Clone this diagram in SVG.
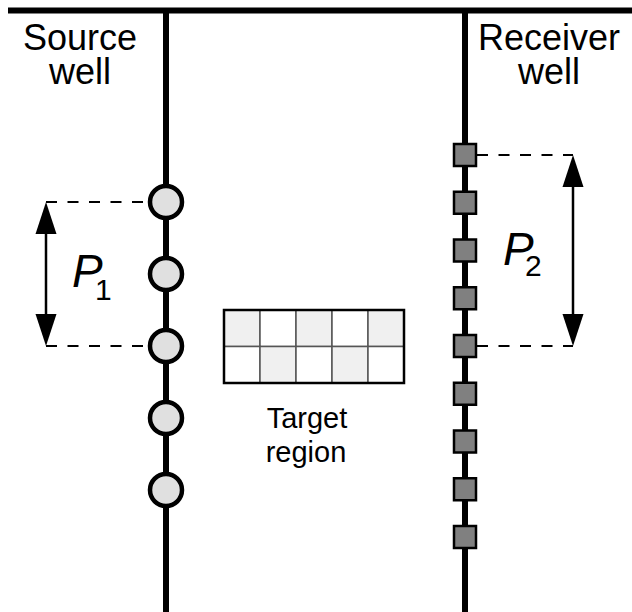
<svg xmlns="http://www.w3.org/2000/svg" width="632" height="612" viewBox="0 0 632 612">
  <defs>
    <style>
      .well { stroke: #000; stroke-width: 6; fill: none; }
      .src { fill: #e0e0e0; stroke: #000; stroke-width: 4.5; }
      .rcv { fill: #808080; stroke: #000; stroke-width: 2.5; }
      .dash { stroke: #000; stroke-width: 2; stroke-dasharray: 11 10.5; fill: none; }
      .dim { stroke: #000; stroke-width: 2.5; fill: none; }
      .head { fill: #000; }
      .lbl { font-family: "Liberation Sans", Arial, sans-serif; fill: #000; }
      .cellA { fill: #f0f0f0; stroke: #555; stroke-width: 1.5; }
      .cellB { fill: #ffffff; stroke: #555; stroke-width: 1.5; }
    </style>
  </defs>

  <rect width="632" height="612" fill="#fff"/>

  <!-- surface and wells -->
  <g id="wells">
    <line class="well" x1="8" y1="10.5" x2="632" y2="10.5" stroke-width="7"/>
    <line class="well" x1="166" y1="10" x2="166" y2="612"/>
    <line class="well" x1="465" y1="10" x2="465" y2="612"/>
  </g>

  <g id="labels">
    <text class="lbl" font-size="36" text-anchor="middle"><tspan x="80" y="50">Source</tspan><tspan x="80" y="84">well</tspan></text>
    <text class="lbl" font-size="36" text-anchor="middle"><tspan x="549" y="50">Receiver</tspan><tspan x="549" y="84">well</tspan></text>
  </g>

  <!-- spacing dimension connectors -->
  <g id="connectors">
    <line class="dash" x1="46" y1="202" x2="150" y2="202"/>
    <line class="dash" x1="46" y1="346" x2="150" y2="346"/>
    <line class="dim" x1="46" y1="225" x2="46" y2="323"/>
    <polygon class="head" points="46,202 35.5,234 56.5,234"/>
    <polygon class="head" points="46,346 35.5,314 56.5,314"/>

    <line class="dash" x1="477" y1="155" x2="573" y2="155"/>
    <line class="dash" x1="477" y1="346" x2="573" y2="346"/>
    <line class="dim" x1="573" y1="178" x2="573" y2="323"/>
    <polygon class="head" points="573,155 562.5,187 583.5,187"/>
    <polygon class="head" points="573,346 562.5,314 583.5,314"/>
  </g>

  <g id="p1-label">
    <text class="lbl"><tspan x="72" y="287" font-size="46" font-style="italic">P</tspan><tspan x="95" y="300" font-size="30">1</tspan></text>
  </g>
  <g id="p2-label">
    <text class="lbl"><tspan x="503" y="265" font-size="46" font-style="italic">P</tspan><tspan x="525" y="276" font-size="30">2</tspan></text>
  </g>

  <!-- sources -->
  <g id="sources">
    <circle class="src" cx="166" cy="202" r="16"/>
    <circle class="src" cx="166" cy="274" r="16"/>
    <circle class="src" cx="166" cy="346" r="16"/>
    <circle class="src" cx="166" cy="418" r="16"/>
    <circle class="src" cx="166" cy="490" r="16"/>
  </g>

  <!-- receivers -->
  <g id="receivers">
    <rect class="rcv" x="454" y="144" width="22" height="22"/>
    <rect class="rcv" x="454" y="191.75" width="22" height="22"/>
    <rect class="rcv" x="454" y="239.5" width="22" height="22"/>
    <rect class="rcv" x="454" y="287.25" width="22" height="22"/>
    <rect class="rcv" x="454" y="335" width="22" height="22"/>
    <rect class="rcv" x="454" y="382.75" width="22" height="22"/>
    <rect class="rcv" x="454" y="430.5" width="22" height="22"/>
    <rect class="rcv" x="454" y="478.25" width="22" height="22"/>
    <rect class="rcv" x="454" y="526" width="22" height="22"/>
  </g>

  <!-- target region grid -->
  <g id="target-region">
    <rect class="cellA" x="224" y="310" width="36" height="36.5"/>
    <rect class="cellB" x="260" y="310" width="36" height="36.5"/>
    <rect class="cellA" x="296" y="310" width="36" height="36.5"/>
    <rect class="cellB" x="332" y="310" width="36" height="36.5"/>
    <rect class="cellA" x="368" y="310" width="36" height="36.5"/>
    <rect class="cellB" x="224" y="346.5" width="36" height="36.5"/>
    <rect class="cellA" x="260" y="346.5" width="36" height="36.5"/>
    <rect class="cellB" x="296" y="346.5" width="36" height="36.5"/>
    <rect class="cellA" x="332" y="346.5" width="36" height="36.5"/>
    <rect class="cellB" x="368" y="346.5" width="36" height="36.5"/>
    <rect x="224" y="310" width="180" height="73" fill="none" stroke="#000" stroke-width="2.5"/>
    <text class="lbl" font-size="29" text-anchor="middle"><tspan x="307" y="428">Target</tspan><tspan x="306" y="462">region</tspan></text>
  </g>
</svg>
